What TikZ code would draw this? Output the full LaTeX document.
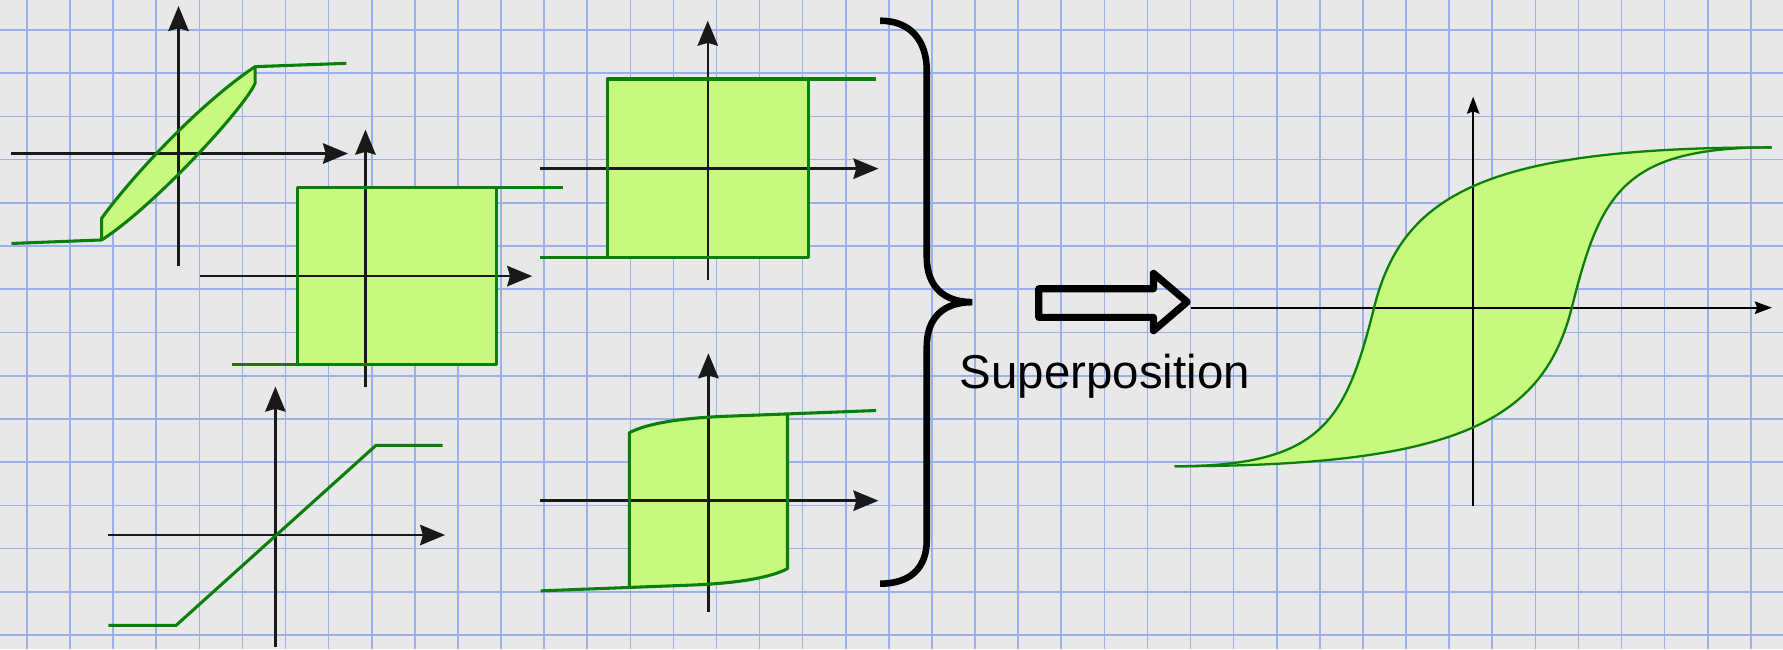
\documentclass[tikz,border=0pt]{standalone}
\usepackage{fontspec}
\setmainfont{Liberation Sans}
\usetikzlibrary{arrows.meta}
\definecolor{bgc}{RGB}{232,232,232}
\definecolor{gridc}{RGB}{155,175,232}
\definecolor{fillc}{RGB}{198,249,126}
\definecolor{curvec}{RGB}{10,128,10}
\begin{document}
\begin{tikzpicture}[x=1pt,y=-1pt,
  gridline/.style={draw=gridc, line width=1.4pt},
  axis/.style={draw=black!90, line width=2.1pt, -{Stealth[length=22pt,width=18pt,inset=2.5pt]}},
  axisthin/.style={draw=black, line width=1.4pt, -{Stealth[length=15pt,width=11pt,inset=2pt]}},
  curve/.style={draw=curvec, line width=2.7pt, line join=round},
  curvethin/.style={draw=curvec, line width=2pt, line join=round},
  area/.style={fill=fillc},
  bracestyle/.style={draw=black, line width=5.8pt},
  blockarrow/.style={draw=black, line width=6.3pt, line join=round}]
\fill[bgc] (0,0) rectangle (1568,571);
\useasboundingbox (0,0) rectangle (1568,571);
% grid
\foreach \k in {0,...,40} {\draw[gridline] ({23.7+37.9*\k},0) -- ({23.7+37.9*\k},571);}
\foreach \k in {0,...,14} {\draw[gridline] (0,{26.4+38*\k}) -- (1568,{26.4+38*\k});}

% ---- plot 1: narrow loop
\fill[area] (89.4,211) -- (89.4,192) .. controls (110,163) and (170,95) .. (224.3,58.6) -- (224.3,73.3) .. controls (215,95) and (135,182) .. (89.4,211) -- cycle;
\draw[axis] (10,135) -- (306,135);
\draw[axis] (157,233.7) -- (157,5.3);
\draw[curve] (10.1,214.1) -- (89.4,211) -- (89.4,192) .. controls (110,163) and (170,95) .. (224.3,58.6) -- (304.6,55.7);
\draw[curve] (224.3,58.6) -- (224.3,73.3) .. controls (215,95) and (135,182) .. (89.4,211);

% ---- plot 2: square loop
\fill[area] (262,165) rectangle (436.5,320.5);
\draw[axis] (176,242.8) -- (468,242.8);
\draw[axis] (321.4,340) -- (321.4,114);
\draw[curve] (494.8,165) -- (262,165) -- (262,320.5);
\draw[curve] (203.6,320.5) -- (436.5,320.5) -- (436.5,165);

% ---- plot 3: square loop
\fill[area] (534.2,69.5) rectangle (711.2,226.6);
\draw[axis] (475,148.3) -- (772.5,148.3);
\draw[axis] (622.4,246.3) -- (622.4,18.2);
\draw[curve] (770.2,69.5) -- (534.2,69.5) -- (534.2,226.6);
\draw[curve] (475,226.6) -- (711.2,226.6) -- (711.2,69.5);

% ---- plot 4: rounded square loop
\fill[area] (553.5,516.6) -- (553.5,380.5) .. controls (570,372) and (600,367.5) .. (640,366) -- (692.5,364) -- (692.5,500.1) .. controls (676,508.6) and (646,513.1) .. (606,514.6) -- cycle;
\draw[axis] (475,440.3) -- (772.5,440.3);
\draw[axis] (623,538) -- (623,310.7);
\draw[curve] (553.5,516.6) -- (553.5,380.5) .. controls (570,372) and (600,367.5) .. (640,366) -- (692.5,364) -- (770.5,361);
\draw[curve] (475.5,519.6) -- (553.5,516.6) -- (606,514.6) .. controls (646,513.1) and (676,508.6) .. (692.5,500.1) -- (692.5,364);

% ---- plot 5: linear with saturation
\draw[axis] (95.3,470.5) -- (391.4,470.5);
\draw[axis] (242.2,568.7) -- (242.2,340);
\draw[curve] (95.3,550) -- (154.8,550) -- (330.7,391.6) -- (389.3,391.6);

% ---- brace
\draw[bracestyle] (774,18.2) .. controls (800,18.2) and (815,35) .. (815,62) -- (815,226) .. controls (815,252) and (830,265.7) .. (855,265.7) .. controls (830,265.7) and (815,279) .. (815,305) -- (815,475) .. controls (815,500) and (800,513.3) .. (774,513.3);

% ---- block arrow
\draw[blockarrow] (913.5,253.9) -- (1014.4,253.9) -- (1014.4,240.4) -- (1044,265.5) -- (1014.4,290.8) -- (1014.4,279.1) -- (913.5,279.1) -- cycle;

\node[font=\fontsize{41.7pt}{50pt}\selectfont, anchor=base west, inner sep=0pt] (sup) at (844,342) {Superposition};

% ---- result: hysteresis loop
\fill[area] (1033,410) .. controls (1163,410) and (1183.5,370) .. (1208.5,270) .. controls (1233.5,170) and (1308,129.6) .. (1558,129.6) .. controls (1428,129.6) and (1407.5,169.6) .. (1382.5,269.6) .. controls (1357.5,369.6) and (1283,410) .. (1033,410) -- cycle;
\draw[axisthin] (1047,270.6) -- (1558.2,270.6);
\draw[axisthin] (1295.5,445) -- (1295.5,85);
\draw[curvethin] (1033,410) .. controls (1163,410) and (1183.5,370) .. (1208.5,270) .. controls (1233.5,170) and (1308,129.6) .. (1558,129.6);
\draw[curvethin] (1558,129.6) .. controls (1428,129.6) and (1407.5,169.6) .. (1382.5,269.6) .. controls (1357.5,369.6) and (1283,410) .. (1033,410);
\end{tikzpicture}
\end{document}
